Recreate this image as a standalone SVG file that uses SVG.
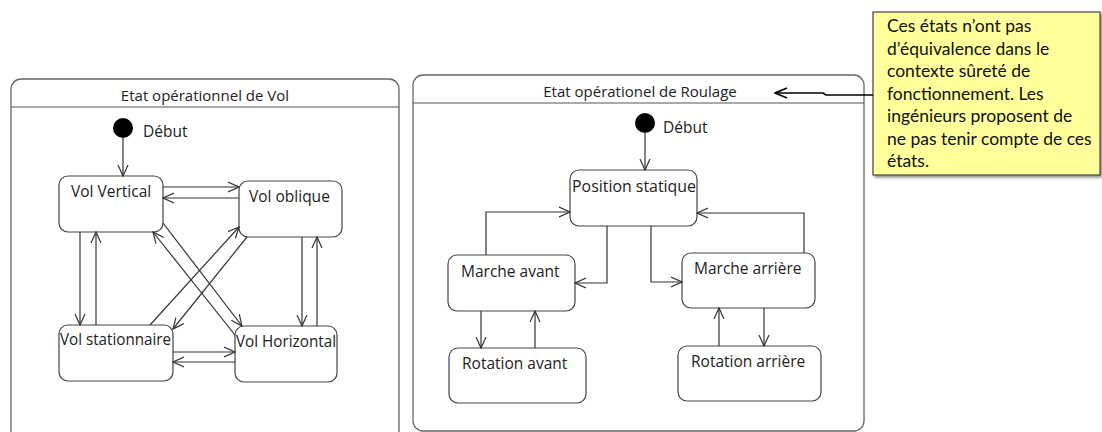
<svg xmlns="http://www.w3.org/2000/svg" width="1102" height="432" viewBox="0 0 1102 432">
<defs>
<marker id="arr" markerWidth="12" markerHeight="12" viewBox="0 0 12 12" refX="11" refY="6" orient="auto" markerUnits="userSpaceOnUse">
<path d="M0,1 L11,6 L0,11" fill="none" stroke="#333" stroke-width="1.2"/>
</marker>
<marker id="arrN" markerWidth="14" markerHeight="12" viewBox="0 0 14 12" refX="13" refY="6" orient="auto" markerUnits="userSpaceOnUse">
<path d="M1,1 L13,6 L1,11" fill="none" stroke="#000" stroke-width="1.8"/>
</marker>
<filter id="sh" x="-5%" y="-5%" width="115%" height="120%">
<feDropShadow dx="2" dy="2" stdDeviation="1.5" flood-color="#000" flood-opacity="0.45"/>
</filter>
</defs>
<style>
.frame{fill:#fff;stroke:#666;stroke-width:1.3}
.hdr{stroke:#555;stroke-width:1.2}
.node{fill:#fff;stroke:#444;stroke-width:1.2}
.t{font-family:"Open Sans","Noto Sans",sans-serif;font-size:15.5px;fill:#222}
.title{font-family:"Open Sans","Noto Sans",sans-serif;font-size:15px;fill:#222;text-anchor:middle}
.c{fill:none;stroke:#333;stroke-width:1.2;marker-end:url(#arr)}
.note{font-family:Lato,"Open Sans",sans-serif;font-size:17.5px;fill:#111}
</style>

<g id="frame-vol">
<rect class="frame" x="11" y="79" width="388" height="370" rx="10"/>
<line class="hdr" x1="11" y1="107" x2="399" y2="107"/>
<text class="title" x="205" y="101">Etat opérationnel de Vol</text>
</g>
<g id="frame-roulage">
<rect class="frame" x="413" y="75" width="451" height="356" rx="10"/>
<line class="hdr" x1="413" y1="103" x2="864" y2="103"/>
<text class="title" x="640" y="97">Etat opérationel de Roulage</text>
</g>

<g id="start-vol">
<circle cx="123" cy="128" r="10" fill="#000"/>
<text class="t" x="143" y="137">Début</text>
</g>
<g id="vol-vertical">
<rect class="node" x="59" y="176" width="104" height="56" rx="9"/>
<text class="t" x="71" y="197">Vol Vertical</text>
</g>
<g id="vol-oblique">
<rect class="node" x="239" y="181" width="103" height="56" rx="9"/>
<text class="t" x="249" y="202">Vol oblique</text>
</g>
<g id="vol-stationnaire">
<rect class="node" x="59" y="325" width="114" height="56" rx="9"/>
<text class="t" x="60" y="345" textLength="111" lengthAdjust="spacingAndGlyphs">Vol stationnaire</text>
</g>
<g id="vol-horizontal">
<rect class="node" x="235" y="326" width="102" height="56" rx="9"/>
<text class="t" x="236" y="347" textLength="100" lengthAdjust="spacingAndGlyphs">Vol Horizontal</text>
</g>

<g id="start-roulage">
<circle cx="645" cy="123" r="10" fill="#000"/>
<text class="t" x="663" y="133">Début</text>
</g>
<g id="position-statique">
<rect class="node" x="570" y="170" width="127" height="56" rx="9"/>
<text class="t" x="572" y="192" textLength="124" lengthAdjust="spacingAndGlyphs">Position statique</text>
</g>
<g id="marche-avant">
<rect class="node" x="448" y="255" width="127" height="56" rx="9"/>
<text class="t" x="461" y="277">Marche avant</text>
</g>
<g id="marche-arriere">
<rect class="node" x="682" y="253" width="133" height="55" rx="9"/>
<text class="t" x="694" y="274">Marche arrière</text>
</g>
<g id="rotation-avant">
<rect class="node" x="449" y="348" width="137" height="55" rx="9"/>
<text class="t" x="462" y="369">Rotation avant</text>
</g>
<g id="rotation-arriere">
<rect class="node" x="678" y="346" width="143" height="55" rx="9"/>
<text class="t" x="691" y="367">Rotation arrière</text>
</g>

<g id="note">
<rect x="873" y="12" width="227" height="163" fill="#ffff9c" stroke="#444" stroke-width="1.2" filter="url(#sh)"/>
<text class="note" x="887" y="32">Ces états n’ont pas</text>
<text class="note" x="887" y="54.5">d’équivalence dans le</text>
<text class="note" x="887" y="77">contexte sûreté de</text>
<text class="note" x="887" y="99.5">fonctionnement. Les</text>
<text class="note" x="887" y="122">ingénieurs proposent de</text>
<text class="note" x="887" y="144.5">ne pas tenir compte de ces</text>
<text class="note" x="887" y="167">états.</text>
</g>

<g id="connectors">
<line class="c" x1="123" y1="138" x2="123" y2="176"/>
<line class="c" x1="163" y1="187" x2="239" y2="187"/>
<line class="c" x1="239" y1="198" x2="163" y2="198"/>
<line class="c" x1="80" y1="232" x2="80" y2="325"/>
<line class="c" x1="96" y1="325" x2="96" y2="232"/>
<line class="c" x1="302" y1="237" x2="302" y2="326"/>
<line class="c" x1="317" y1="326" x2="317" y2="237"/>
<line class="c" x1="173" y1="352" x2="235" y2="352"/>
<line class="c" x1="235" y1="362" x2="173" y2="362"/>
<line class="c" x1="163" y1="223" x2="242" y2="326"/>
<line class="c" x1="235" y1="335" x2="153" y2="232"/>
<line class="c" x1="150" y1="325" x2="239" y2="227"/>
<line class="c" x1="247" y1="237" x2="173" y2="329"/>

<line class="c" x1="645" y1="133" x2="645" y2="170"/>
<polyline class="c" points="486,255 486,212 570,212"/>
<polyline class="c" points="607,226 607,283 575,283"/>
<polyline class="c" points="651,226 651,282 682,282"/>
<polyline class="c" points="804,253 804,213 697,213"/>
<line class="c" x1="481" y1="311" x2="481" y2="348"/>
<line class="c" x1="535" y1="348" x2="535" y2="311"/>
<line class="c" x1="719" y1="346" x2="719" y2="308"/>
<line class="c" x1="764" y1="308" x2="764" y2="346"/>
<polyline points="873,95 826,95 823,93 775,93" fill="none" stroke="#000" stroke-width="1.6" marker-end="url(#arrN)"/>
</g>
</svg>
